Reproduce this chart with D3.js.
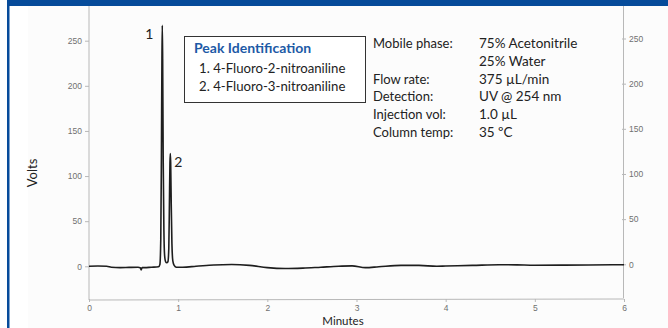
<!DOCTYPE html>
<html><head><meta charset="utf-8">
<script src="https://cdn.jsdelivr.net/npm/d3@7"></script>
<style>
html,body{margin:0;padding:0;background:#fff;}
svg{display:block;}
</style></head>
<body><svg id="c" width="668" height="328"></svg>
<script>
// ---- data ----
const timeMin = [0.00,0.10,0.20,0.25,0.35,0.45,0.55,0.575,0.585,0.595,0.62,0.70,0.78,0.795,0.805,0.812,0.818,0.822,0.826,0.832,0.840,0.848,0.860,0.872,0.885,0.895,0.902,0.908,0.912,0.916,0.922,0.930,0.940,0.955,0.98,1.05,1.2,1.4,1.6,1.8,2.0,2.2,2.4,2.6,2.8,2.95,3.1,3.25,3.5,3.7,3.9,4.0,4.3,4.6,4.8,5.0,5.3,5.6,6.0];
const volts   = [0,0.3,0,-1,-1.5,-1.2,-1,-1.5,-4,-1.5,-1.5,-1,-0.5,2,30,120,230,267,230,120,40,12,5,4,5,20,70,115,125,115,70,25,6,1,-1,-1,0,1.5,2,1,-1.5,-2.5,-2,-1,0,0.5,-1.5,-0.5,1,1,0,0.3,1,1.8,1.6,1.2,1.3,1.5,1.8];
const xTicks = [0,1,2,3,4,5,6];
const yTicks = [0,50,100,150,200,250];
const peakLabels = [{t:0.822,v:267,label:"1"},{t:0.912,v:125,label:"2"}];
const legendTitle = "Peak Identification";
const legendItems = ["1. 4-Fluoro-2-nitroaniline","2. 4-Fluoro-3-nitroaniline"];
const condLabels = ["Mobile phase:","","Flow rate:","Detection:","Injection vol:","Column temp:"];
const condValues = ["75% Acetonitrile","25% Water","375 µL/min","UV @ 254 nm","1.0 µL","35 ºC"];

const FONT = "Lato,'Open Sans',sans-serif";
const svg = d3.select("#c");
const blue = "#064b9a";

// frame
svg.append("rect").attr("x",0).attr("y",0).attr("width",668).attr("height",328).attr("fill","#fff");
svg.append("rect").attr("x",28).attr("y",5).attr("width",640).attr("height",323).attr("fill","#fcfcfc");
svg.append("rect").attr("x",7).attr("y",0).attr("width",661).attr("height",6).attr("fill",blue);
svg.append("rect").attr("x",7).attr("y",0).attr("width",2.5).attr("height",328).attr("fill",blue);

const x = d3.scaleLinear().domain([0,6]).range([89,624]);
const y = d3.scaleLinear().domain([0,250]).range([266.3,40.7]);
const yR = d3.scaleLinear().domain([0,250]).range([264.3,38.5]);

// axes
const axisColor = "#b8b8b8";
const tickText = "#707070";
function styleAxis(g){
  g.select(".domain").remove();
  g.selectAll(".tick line").attr("stroke",axisColor);
  g.selectAll(".tick text").attr("fill",tickText).attr("font-family","'Liberation Sans',Arial,sans-serif").attr("font-size",8.5);
}
svg.append("line").attr("x1",89).attr("x2",89).attr("y1",6).attr("y2",300).attr("stroke",axisColor);
svg.append("line").attr("x1",623.5).attr("x2",623.5).attr("y1",6).attr("y2",298).attr("stroke",axisColor);
svg.append("line").attr("x1",89).attr("x2",624).attr("y1",300).attr("y2",299).attr("stroke",axisColor);

svg.append("g").attr("transform","translate(89,0)")
  .call(d3.axisLeft(y).tickValues(yTicks).tickSize(4).tickPadding(3))
  .call(styleAxis);
svg.append("g").attr("transform","translate(622,0)")
  .call(d3.axisRight(yR).tickValues(yTicks).tickSize(4).tickPadding(3))
  .call(styleAxis);
svg.append("g").attr("transform","translate(0,299)")
  .call(d3.axisBottom(x).tickValues(xTicks).tickSize(3).tickPadding(3).tickFormat(d3.format("d")))
  .call(styleAxis);

// axis titles
svg.append("text").attr("transform","translate(37,173) rotate(-90)").attr("text-anchor","middle")
  .attr("font-family",FONT).attr("font-size",13).attr("fill","#222").text("Volts");
svg.append("text").attr("x",343).attr("y",325.3).attr("text-anchor","middle")
  .attr("font-family",FONT).attr("font-size",11.5).attr("fill","#222").text("Minutes");

// curve
const pts = timeMin.map((t,i)=>[t,volts[i]]);
svg.append("path").datum(pts)
  .attr("d",d3.line().x(d=>x(d[0])).y(d=>y(d[1])).curve(d3.curveMonotoneX))
  .attr("fill","none").attr("stroke","#1e1e1e").attr("stroke-width",1.6).attr("stroke-linejoin","round");

// peak labels
svg.append("text").attr("x",x(peakLabels[0].t)-13).attr("y",y(peakLabels[0].v)+14)
  .attr("font-family",FONT).attr("font-size",14).attr("fill","#222").attr("text-anchor","middle").text(peakLabels[0].label);
svg.append("text").attr("x",x(peakLabels[1].t)+8).attr("y",y(peakLabels[1].v)+13)
  .attr("font-family",FONT).attr("font-size",14).attr("fill","#222").attr("text-anchor","middle").text(peakLabels[1].label);

// legend box
svg.append("rect").attr("x",184.5).attr("y",36.5).attr("width",181).attr("height",66)
  .attr("fill","#fff").attr("stroke","#333").attr("stroke-width",1);
svg.append("text").attr("x",194).attr("y",53).attr("font-family",FONT).attr("font-weight","bold")
  .attr("font-size",14).attr("fill","#1d5aa6").text(legendTitle);
legendItems.forEach((s,i)=>{
  svg.append("text").attr("x",199).attr("y",73+i*17.5).attr("font-family",FONT)
    .attr("font-size",13.2).attr("fill","#222").text(s);
});

// conditions
condLabels.forEach((s,i)=>{
  const yy = 48.3 + i*17.7;
  if(s) svg.append("text").attr("x",373).attr("y",yy).attr("font-family",FONT).attr("font-size",13).attr("fill","#222").text(s);
  svg.append("text").attr("x",479).attr("y",yy).attr("font-family",FONT).attr("font-size",13.5).attr("fill","#222").text(condValues[i]);
});
</script></body></html>
